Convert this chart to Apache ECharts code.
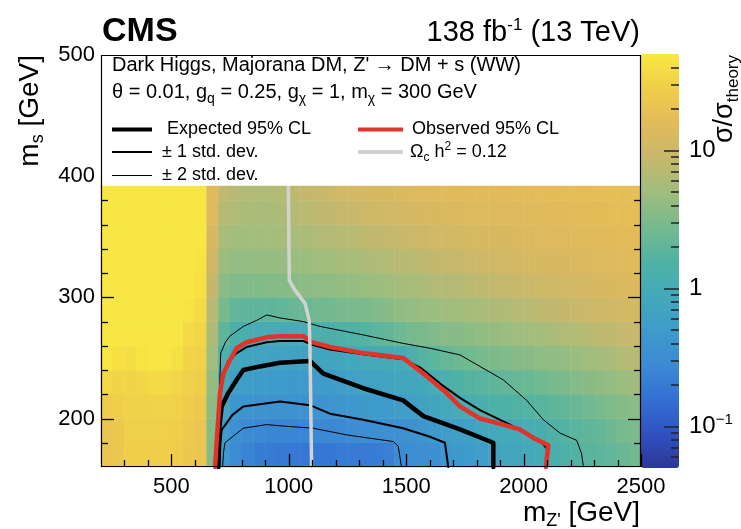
<!DOCTYPE html>
<html><head><meta charset="utf-8">
<script src="https://cdn.jsdelivr.net/npm/echarts@6/dist/echarts.min.js"></script>
<style>html,body{margin:0;padding:0;background:#fff}#c{width:741px;height:529px}</style>
</head><body><div id="c"></div>
<script>
// ---------------- data ----------------
const mZpBins = [225,275,325,375,425,475,525,575,625,675,725,775,825,875,925,975,1025,1075,1125,1175,1225,1275,1325,1375,1425,1475,1525,1575,1625,1675,1725,1775,1825,1875,1925,1975,2025,2075,2125,2175,2225,2275,2325,2375,2425,2475];
const msBins = [170,190,210,230,250,270,290,310,330,350,370,390,410,430,450,470,490];
// sigma/sigma_theory, one row per ms bin (bottom to top), one value per mZ' bin
const ratio_ms170 = [22,23,28,28,28,28,27,24,22,3.5,0.45,0.3,0.24,0.21,0.2,0.19,0.19,0.18,0.18,0.18,0.2,0.2,0.2,0.21,0.22,0.3,0.32,0.33,0.35,0.42,0.48,0.5,0.55,0.7,0.78,0.82,0.88,0.95,1.25,1.4,1.6,1.8,1.9,2.1,2.3,2.6];
const ratio_ms190 = [22,24,29,29,29,29,28,25,22,3.5,0.5,0.34,0.3,0.27,0.26,0.26,0.26,0.26,0.27,0.27,0.28,0.3,0.32,0.33,0.34,0.36,0.38,0.42,0.48,0.55,0.6,0.62,0.8,0.85,0.92,0.98,1.05,1.15,1.5,1.65,1.85,2.05,2.2,2.5,2.8,3.0];
const ratio_ms210 = [26,28,30,30,31,31,30,27,24,3.8,0.72,0.42,0.4,0.38,0.38,0.38,0.37,0.37,0.38,0.4,0.42,0.45,0.48,0.5,0.52,0.55,0.6,0.7,0.75,0.85,1.0,1.1,1.3,1.4,1.5,1.6,1.7,1.8,2.0,2.1,2.3,2.6,2.9,3.2,3.5,3.8];
const ratio_ms230 = [36,32,32,34,38,38,33,29,27,4.2,0.95,0.58,0.55,0.52,0.5,0.5,0.48,0.47,0.5,0.52,0.58,0.62,0.66,0.7,0.72,0.78,0.8,0.9,1.05,1.3,1.5,1.7,1.8,1.95,2.1,2.3,2.4,2.6,2.8,3.1,3.4,3.7,4.0,4.3,4.8,5.1];
const ratio_ms250 = [48,42,40,46,48,48,42,32,30,5,1.4,0.85,0.72,0.7,0.68,0.66,0.65,0.65,0.72,0.75,0.8,0.85,0.92,0.95,0.98,1.0,1.3,1.7,1.9,2.2,2.5,2.6,2.9,3.1,3.3,3.5,3.7,3.9,4.1,4.3,4.6,5,5.4,5.8,6.6,7.0];
const ratio_ms270 = [48,48,48,48,48,48,48,38,34,6,2.0,1.3,1.15,1.08,1.05,1.03,1.05,1.1,1.3,1.35,1.45,1.55,1.7,1.9,2.1,2.5,2.8,3,3.3,3.6,3.7,3.9,4.2,4.4,4.6,4.9,5.2,5.5,5.8,6.2,6.6,7.1,7.6,8.1,8.6,9];
const ratio_ms290 = [48,48,48,48,48,48,48,46,38,7,2.8,2.1,2.0,2.0,2.0,2.1,2.3,2.4,2.6,2.7,2.9,3,3.1,3.3,3.6,4.0,4.3,4.6,4.8,5,5.2,5.5,5.8,6.1,6.5,6.9,7.2,7.6,8,8.5,9,9.5,10,10.5,11,11.5];
const ratio_ms310 = [48,48,48,48,48,48,48,48,42,8.5,3.8,3.3,3.3,3.3,3.4,3.5,3.7,3.8,3.9,4,4.2,4.4,4.6,4.8,5.1,5.5,5.7,6.1,6.4,6.7,7,7.4,7.8,8.3,8.6,9,9.5,10,10.5,11,11.5,12,12.5,13,13.5,14];
const ratio_ms330 = [48,48,48,48,48,48,48,48,46,10,4.8,4.3,4.3,4.3,4.4,4.5,4.6,4.8,5,5.2,5.5,5.8,6,6.3,6.6,7.1,7.4,7.8,8.2,8.6,9,9.6,10.2,10.5,11,11.5,12,12.4,12.7,13,13.2,13.5,14,14.5,15,15.5];
const ratio_ms350 = [48,48,48,48,48,48,48,48,48,12,5.8,5.2,5.2,5.2,5.3,5.5,5.8,6,6.3,6.5,6.8,7.2,7.6,8,8.4,9,9.5,10,10.6,11,11.5,12,12.3,12.6,13,13.3,13.6,14,14.5,14.8,15,15.2,15.5,16,16.3,16.5];
const ratio_ms370 = [48,48,48,48,48,48,48,48,48,14,7,6.2,5.9,5.8,5.9,6.2,6.8,7.3,7.6,8,8.6,9,9.7,10.3,10.8,11.5,12,12.5,13,13.5,13.5,13.8,14,14.3,14.5,14.8,15,15.3,15.5,16,16.2,16.5,16.8,17,17.3,17.5];
const ratio_ms390 = [48,48,48,48,48,48,48,48,48,15,8,7,6.4,6.3,6.4,6.8,7.8,8.5,9,10,11,11.5,12,12.5,13,13.5,14,14.5,15,15.5,16,16,16,16,16,16.5,16.5,17,17,17,17.5,17.5,17.8,18,18,18.5];
const ratioRows = [ratio_ms170,ratio_ms190,ratio_ms210,ratio_ms230,ratio_ms250,ratio_ms270,ratio_ms290,ratio_ms310,ratio_ms330,ratio_ms350,ratio_ms370,ratio_ms390];

// contours [mZ', ms]
const observed = [[686,160],[693,182],[707,221],[721,237],[749,248],[778,258],[820,263],[906,267],[962,268],[1062,268],[1097,263],[1175,259],[1317,254],[1487,250],[1587,235],[1672,221],[1729,210],[1814,200],[1913,195],[1984,191],[2041,184],[2105,178],[2095,160]];
const expected = [[700,160],[705,195],[714,210],[742,221],[778,232],[806,240],[877,243],[962,246],[1090,247.5],[1147,237],[1317,225],[1487,215],[1573,202],[1729,191],[1871,180],[1871,160]];
const expOuter1 = [[692,160],[700,205],[712,232],[740,247],[778,254],[820,259],[906,263],[962,264],[1062,264],[1097,261],[1175,257],[1317,253],[1487,249],[1560,242],[1650,228],[1729,217],[1814,207],[1942,195],[2010,188],[2070,182],[2100,175],[2098,160]];
const expInner1 = [[703,160],[708,180],[714,190.6],[760,203],[806,210],[962,214],[1090,211],[1175,204],[1317,199],[1487,192],[1601,185],[1665,180],[1679,160]];
const expOuter2 = [[690,160],[695,190],[705,225],[710,254],[730,263],[749,268],[806,276],[863,281],[906,285.5],[962,283],[1062,280],[1133,276],[1317,269],[1487,262],[1601,258],[1729,252.5],[1814,243],[1913,232],[2013,215],[2084,199],[2155,188],[2226,182],[2247,171],[2255,160]];
const expInner2 = [[718,160],[722,172],[728,180],[806,192],[906,195],[962,194],[1104,192],[1246,186.5],[1445,181],[1466,177],[1480,160]];
const relic = [[998,392],[1002,314],[1026,306],[1069,295],[1087,281],[1090,259],[1097,160]];

// ticks
const xMajorTicks = [500,1000,1500,2000,2500];
const xMinorTicks = [300,400,600,700,800,900,1100,1200,1300,1400,1600,1700,1800,1900,2100,2200,2300,2400];
const yMajorTicks = [200,300,400,500];
const yMinorTicks = [180,220,240,260,280,320,340,360,380,420,440,460,480];
const cbMajorTicks = [0.1,1,10];
const cbMinorTicks = [0.06,0.07,0.08,0.09,0.2,0.3,0.4,0.5,0.6,0.7,0.8,0.9,2,3,4,5,6,7,8,9,20,30,40];

// ---------------- chart ----------------
ratioRows.forEach((r,i)=>{ if (r.length !== mZpBins.length) throw new Error('row '+i+' has '+r.length); });

const FONT = "'Liberation Sans', Arial, Helvetica, sans-serif";
const L = 101, T = 55, W = 540, H = 412;
const X0 = 200, X1 = 2500, Y0 = 160, Y1 = 500;
const px = m => L + (m - X0) / (X1 - X0) * W;
const py = ms => T + (Y1 - ms) / (Y1 - Y0) * H;
const BOX_MS = 392;
const boxBottom = py(BOX_MS);
const MAJOR = 13, MINOR = 7;

const heatData = [];
ratioRows.forEach((row, j) => row.forEach((v, i) => heatData.push([i, j, Math.log10(v)])));

const palette = ['#2c3896','#3052c2','#3470d4','#3c8ad4','#3f9bcb','#43a9ba','#50b2a4','#76ba8e','#a0bd7e','#c8b86c','#e2ba5a','#f0ce4a','#f8e842'];

function lineSeries(data, color, width, z) {
  return {type:'line', xAxisIndex:0, yAxisIndex:0, data, showSymbol:false, symbol:'none',
    lineStyle:{color, width, cap:'round', join:'round'}, z, silent:true, animation:false, clip:true};
}
const cbLog = v => Math.log10(v);
const plain = v => String(v);
const TOP = 1; // overlay layer for axes, legend box and frame

// frame tick marks (same scale as the plot axes), drawn as overlay lines
const tickEls = [];
const tStyle = () => ({stroke:'#000', lineWidth:1.3});
[[xMajorTicks, MAJOR], [xMinorTicks, MINOR]].forEach(([vals, len]) => vals.forEach(v => {
  const x = Math.round(px(v)) + 0.5, yb = T + H;
  tickEls.push({type:'line', zlevel:TOP, z:32, silent:true, shape:{x1:x, y1:yb, x2:x, y2:yb-len}, style:tStyle()});
}));
[[yMajorTicks, MAJOR], [yMinorTicks, MINOR]].forEach(([vals, len]) => vals.forEach(v => {
  if (v >= BOX_MS) return; // hidden behind the legend box
  const y = Math.round(py(v)) + 0.5;
  tickEls.push({type:'line', zlevel:TOP, z:32, silent:true, shape:{x1:L, y1:y, x2:L+len, y2:y}, style:tStyle()});
  tickEls.push({type:'line', zlevel:TOP, z:32, silent:true, shape:{x1:L+W, y1:y, x2:L+W-len, y2:y}, style:tStyle()});
}));

const chart = echarts.init(document.getElementById('c'), null, {renderer:'canvas'});
const option = {
  backgroundColor:'#fff',
  animation:false,
  textStyle:{fontFamily:FONT},
  grid:[
    {left:L, top:T, width:W, height:H, show:false},
    {left:641, top:54, width:38, height:414, show:false}
  ],
  xAxis:[
    {type:'value', gridIndex:0, min:X0, max:X1, position:'bottom', zlevel:TOP, z:10,
      axisLine:{show:false,onZero:false}, splitLine:{show:false}, axisTick:{show:false},
      axisLabel:{show:true, customValues:xMajorTicks, formatter:plain, fontSize:22, color:'#000', margin:9, fontFamily:FONT}},
    {type:'category', gridIndex:0, data:mZpBins, show:false},
    {type:'value', gridIndex:1, min:0, max:1, show:false}
  ],
  yAxis:[
    {type:'value', gridIndex:0, min:Y0, max:Y1, position:'left', zlevel:TOP, z:10,
      axisLine:{show:false,onZero:false}, splitLine:{show:false}, axisTick:{show:false},
      axisLabel:{show:true, customValues:yMajorTicks, formatter:plain, fontSize:22, color:'#000', margin:6, fontFamily:FONT}},
    {type:'category', gridIndex:0, data:msBins, show:false},
    {type:'value', gridIndex:1, min:-1.3, max:1.7, position:'right', zlevel:TOP, z:10,
      axisLine:{show:false,onZero:false}, splitLine:{show:false},
      axisTick:{show:true, inside:true, length:15, customValues:cbMajorTicks.map(cbLog), lineStyle:{color:'#222',width:1.5}},
      axisLabel:{show:true, customValues:cbMajorTicks.map(cbLog), margin:10, color:'#000', fontSize:24, fontFamily:FONT,
        formatter: v => Math.abs(v-1)<1e-6 ? '{n|10}' : (Math.abs(v)<1e-6 ? '{n|1}' : '{n|10}{p|−1}'),
        rich:{n:{fontSize:24, fontFamily:FONT, color:'#000'}, p:{fontSize:15, fontFamily:FONT, color:'#000', padding:[0,0,14,0]}}}},
    {type:'value', gridIndex:1, min:-1.3, max:1.7, position:'right', zlevel:TOP, z:10,
      axisLine:{show:false,onZero:false}, splitLine:{show:false},
      axisTick:{show:true, inside:true, length:8, customValues:cbMinorTicks.map(cbLog), lineStyle:{color:'#222',width:1.5}},
      axisLabel:{show:false}}
  ],
  visualMap:{
    type:'continuous', seriesIndex:0, dimension:2, min:-1.3, max:1.7,
    calculable:false, hoverLink:false, realtime:false, orient:'vertical',
    left:641, top:54, itemWidth:38, itemHeight:414, padding:0, text:null,
    inRange:{color:palette}, z:4
  },
  series:[
    {type:'heatmap', xAxisIndex:1, yAxisIndex:1, data:heatData, z:0, silent:true, progressive:0,
      itemStyle:{borderWidth:0}, emphasis:{disabled:true}},
    lineSeries(expOuter2, '#000', 1, 3),
    lineSeries(expInner2, '#000', 1, 3),
    lineSeries(expOuter1, '#000', 2, 3),
    lineSeries(expInner1, '#000', 2, 3),
    lineSeries(expected, '#000', 4.5, 4),
    lineSeries(observed, '#e2322a', 4.5, 5),
    lineSeries(relic, '#d2d2d2', 3.5, 6)
  ],
  graphic:[
    {type:'rect', zlevel:TOP, z:20, shape:{x:L, y:T, width:W, height:boxBottom-T}, style:{fill:'#fff', stroke:null}},
    {type:'rect', zlevel:TOP, z:30, shape:{x:L+0.5, y:T+0.5, width:W-1, height:H-1}, style:{fill:null, stroke:'#000', lineWidth:1.2}},
    {type:'text', zlevel:TOP, z:31, x:112, y:65, style:{text:"Dark Higgs, Majorana DM, Z' \u2192 DM + s (WW)", font:'20px '+FONT, fill:'#000', verticalAlign:'middle'}},
    {type:'text', zlevel:TOP, z:31, x:112, y:92, style:{text:'{n|\u03b8 = 0.01, g}{s|q}{n| = 0.25, g}{s|\u03c7}{n| = 1, m}{s|\u03c7}{n| = 300 GeV}', verticalAlign:'middle',
      rich:{n:{fontSize:20, fontFamily:FONT, fill:'#000'}, s:{fontSize:14, fontFamily:FONT, fill:'#000', padding:[14,0,0,0]}}}},
    {type:'line', zlevel:TOP, z:31, shape:{x1:112, y1:129.5, x2:152, y2:129.5}, style:{stroke:'#000', lineWidth:4}},
    {type:'text', zlevel:TOP, z:31, x:167, y:129, style:{text:'Expected 95% CL', font:'18px '+FONT, fill:'#000', verticalAlign:'middle'}},
    {type:'line', zlevel:TOP, z:31, shape:{x1:112, y1:152, x2:152, y2:152}, style:{stroke:'#000', lineWidth:2}},
    {type:'text', zlevel:TOP, z:31, x:162, y:152, style:{text:'\u00b1 1 std. dev.', font:'18px '+FONT, fill:'#000', verticalAlign:'middle'}},
    {type:'line', zlevel:TOP, z:31, shape:{x1:112, y1:175.5, x2:152, y2:175.5}, style:{stroke:'#000', lineWidth:1}},
    {type:'text', zlevel:TOP, z:31, x:162, y:175, style:{text:'\u00b1 2 std. dev.', font:'18px '+FONT, fill:'#000', verticalAlign:'middle'}},
    {type:'line', zlevel:TOP, z:31, shape:{x1:358, y1:129.5, x2:403, y2:129.5}, style:{stroke:'#e2322a', lineWidth:4}},
    {type:'text', zlevel:TOP, z:31, x:412, y:129, style:{text:'Observed 95% CL', font:'18px '+FONT, fill:'#000', verticalAlign:'middle'}},
    {type:'line', zlevel:TOP, z:31, shape:{x1:358, y1:152, x2:403, y2:152}, style:{stroke:'#d2d2d2', lineWidth:4}},
    {type:'text', zlevel:TOP, z:31, x:410, y:152, style:{text:'{n|\u03a9}{s|c}{n| h}{p|2}{n| = 0.12}', verticalAlign:'middle',
      rich:{n:{fontSize:18, fontFamily:FONT, fill:'#000'}, s:{fontSize:12, fontFamily:FONT, fill:'#000', padding:[11,0,0,0]}, p:{fontSize:12, fontFamily:FONT, fill:'#000', padding:[0,0,11,0]}}}},
    {type:'text', zlevel:TOP, z:31, x:102, y:32, style:{text:'CMS', font:'bold 34px '+FONT, fill:'#000', verticalAlign:'middle'}},
    {type:'text', zlevel:TOP, z:31, x:640, y:33, style:{text:'{n|138 fb}{p|-1}{n| (13 TeV)}', align:'right', verticalAlign:'middle',
      rich:{n:{fontSize:29, fontFamily:FONT, fill:'#000'}, p:{fontSize:17, fontFamily:FONT, fill:'#000', padding:[0,0,15,0]}}}},
    {type:'text', zlevel:TOP, z:31, x:640, y:513, style:{text:"{n|m}{s|Z'}{n| [GeV]}", align:'right', verticalAlign:'middle',
      rich:{n:{fontSize:28, fontFamily:FONT, fill:'#000'}, s:{fontSize:18, fontFamily:FONT, fill:'#000', padding:[16,0,0,0]}}}},
    {type:'text', zlevel:TOP, z:31, x:30, y:55, rotation:Math.PI/2, style:{text:'{n|m}{s|s}{n| [GeV]}', align:'right', verticalAlign:'middle',
      rich:{n:{fontSize:28, fontFamily:FONT, fill:'#000'}, s:{fontSize:18, fontFamily:FONT, fill:'#000', padding:[16,0,0,0]}}}},
    {type:'text', zlevel:TOP, z:31, x:725, y:55, rotation:Math.PI/2, style:{text:'{n|\u03c3/\u03c3}{s|theory}', align:'right', verticalAlign:'middle',
      rich:{n:{fontSize:27, fontFamily:FONT, fill:'#000'}, s:{fontSize:17, fontFamily:FONT, fill:'#000', padding:[16,0,0,0]}}}}
  ].concat(tickEls)
};
chart.setOption(option);
</script>
</body></html>
